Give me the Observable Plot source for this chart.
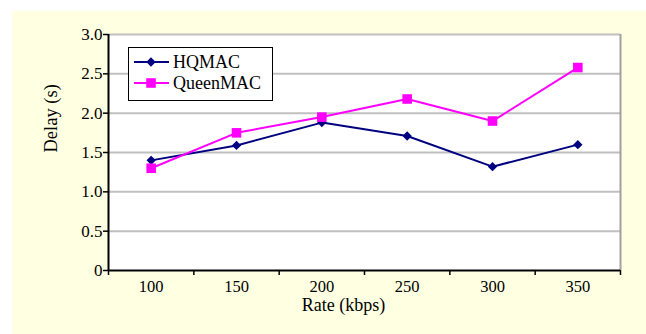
<!DOCTYPE html>
<html><head><meta charset="utf-8">
<script src="https://cdn.jsdelivr.net/npm/d3@7"></script>
<script src="https://cdn.jsdelivr.net/npm/@observablehq/plot@0.6"></script>
<style>
html,body{margin:0;padding:0;background:#fff;}
#wrap{position:relative;width:646px;height:334px;overflow:hidden;}
#bg{position:absolute;left:12px;top:11px;right:0;bottom:0;background:#FFFFE1;}
#chart{position:absolute;left:0;top:0;}
#chart svg{font-family:"Liberation Serif","Times New Roman",serif !important;font-size:16px !important;color:#000 !important;background:transparent !important;}
#legend{position:absolute;left:128px;top:47px;width:145px;height:54px;border:1.5px solid #000;background:#fff;box-sizing:border-box;}
</style></head><body>
<div id="wrap"><div id="bg"></div><div id="chart"></div><div id="legend"></div></div>
<script>
const rates = [100, 150, 200, 250, 300, 350];
const hqmac = [1.40, 1.59, 1.88, 1.71, 1.32, 1.60];
const queenmac = [1.30, 1.75, 1.95, 2.18, 1.90, 2.58];
const seriesNames = ["HQMAC", "QueenMAC"];
const seriesColors = ["#000080", "#FF00FF"];
const seriesSymbols = ["diamond2", "square"];
const yTicks = [0, 0.5, 1, 1.5, 2, 2.5, 3];
const xBounds = [75, 125, 175, 225, 275, 325, 375];

const serif = "Liberation Serif";
const rows = [];
rates.forEach((r, i) => {
  rows.push({rate: r, delay: hqmac[i], series: seriesNames[0]});
  rows.push({rate: r, delay: queenmac[i], series: seriesNames[1]});
});
const hq = rows.filter(d => d.series === seriesNames[0]);
const qm = rows.filter(d => d.series === seriesNames[1]);

const chart = Plot.plot({
  width: 646,
  height: 334,
  marginLeft: 108,
  marginRight: 26,
  marginTop: 34,
  marginBottom: 64,
  x: {domain: [75, 375]},
  y: {domain: [0, 3]},
  marks: [
    Plot.frame({fill: "white", stroke: null}),
    Plot.ruleY(yTicks.filter(d => d > 0), {stroke: "#c0c0c0", strokeWidth: 2}),
    Plot.ruleX([375], {stroke: "#a0a0a0", strokeWidth: 2}),
    Plot.line(hq, {x: "rate", y: "delay", stroke: seriesColors[0], strokeWidth: 2}),
    Plot.line(qm, {x: "rate", y: "delay", stroke: seriesColors[1], strokeWidth: 2}),
    Plot.dot(hq, {x: "rate", y: "delay", fill: seriesColors[0], stroke: "none", symbol: seriesSymbols[0], r: 4.2}),
    Plot.dot(qm, {x: "rate", y: "delay", fill: seriesColors[1], stroke: "none", symbol: seriesSymbols[1], r: 5.4}),
    Plot.ruleX([75], {stroke: "black", strokeWidth: 2}),
    Plot.ruleY([0], {stroke: "black", strokeWidth: 2}),
    Plot.axisY({ticks: yTicks, tickFormat: d => d === 0 ? "0" : d.toFixed(1), tickSize: 5, tickPadding: 1, label: null, strokeWidth: 1.5, fontFamily: serif, fontSize: 17, fill: "black"}),
    Plot.axisX({ticks: xBounds, tickFormat: () => "", tickSize: 5, label: null, strokeWidth: 1.5}),
    Plot.axisX({ticks: rates, tickSize: 0, tickPadding: 10, label: null, fontFamily: serif, fontSize: 16.5, fill: "black"}),
    Plot.text(["Delay (s)"], {text: d => d, frameAnchor: "left", rotate: -90, dx: -57, fontSize: 18.5, fontFamily: serif, fill: "black"}),
    Plot.text(["Rate (kbps)"], {text: d => d, frameAnchor: "bottom", dx: -21, dy: 40, fontSize: 18, fontFamily: serif, fill: "black"})
  ]
});
document.getElementById("chart").appendChild(chart);

// Legend
const lg = d3.select("#legend").append("svg").attr("width", 142).attr("height", 51)
  .style("font-family", "'Liberation Serif', 'Times New Roman', serif").style("font-size", "18px");
seriesNames.forEach((name, i) => {
  const cy = 14 + i * 21;
  lg.append("line").attr("x1", 5).attr("x2", 40).attr("y1", cy).attr("y2", cy)
    .attr("stroke", seriesColors[i]).attr("stroke-width", 2);
  const sym = i === 0 ? d3.symbolDiamond2 : d3.symbolSquare;
  const size = i === 0 ? Math.PI * 4.2 * 4.2 : Math.PI * 5.4 * 5.4;
  lg.append("path").attr("d", d3.symbol(sym, size)()).attr("transform", `translate(22,${cy})`)
    .attr("fill", seriesColors[i]);
  lg.append("text").attr("x", 44).attr("y", cy).attr("dy", "0.35em").text(name);
});
</script>
</body></html>
